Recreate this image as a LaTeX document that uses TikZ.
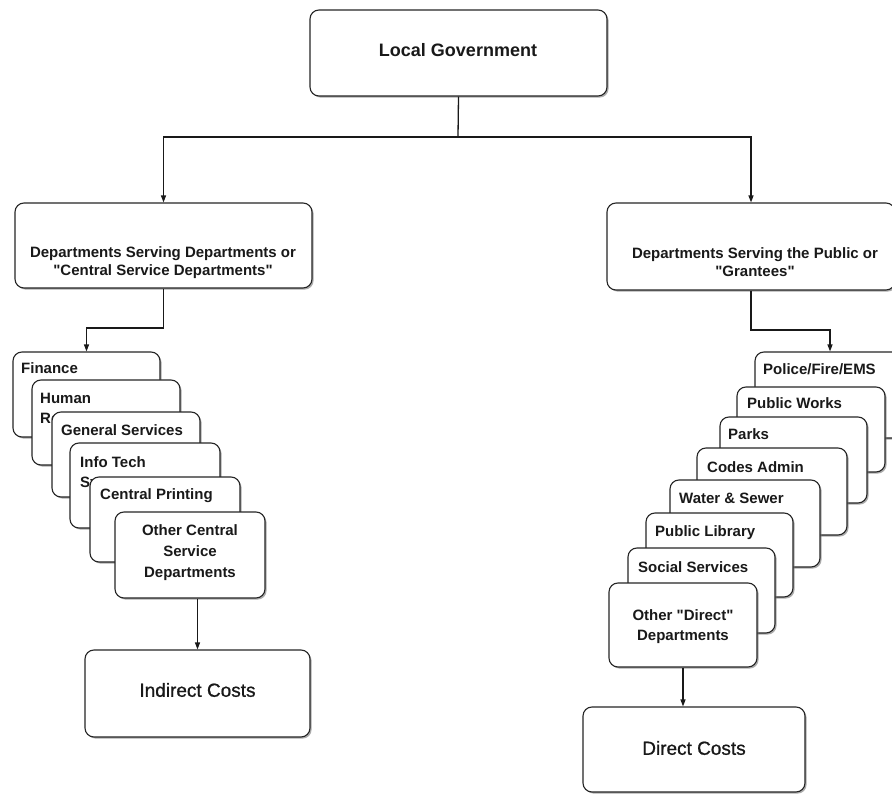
\documentclass[tikz,border=0pt]{standalone}
\usepackage{fontspec}
\setmainfont{Liberation Sans}[Ligatures=TeXOff]
\newfontfamily\medfont{Liberation Sans}[FakeBold=0.9,Ligatures=TeXOff]
\usetikzlibrary{fit,shadows,arrows.meta,calc}
\begin{document}
\begin{tikzpicture}[x=1pt,y=-1pt,
  box/.style={draw=black!85, line width=1.1pt, rounded corners=9pt, fill=white, inner sep=0pt,
     drop shadow={shadow xshift=1.6pt, shadow yshift=-1.6pt, fill=black!55, opacity=0.6}},
  lbl/.style={font=\bfseries\fontsize{15}{20}\selectfont, inner sep=0pt, anchor=north west, align=left, text=black!90},
  ctr/.style={font=\bfseries\fontsize{15}{20}\selectfont, inner sep=0pt, align=center, text=black!90},
  big/.style={font=\medfont\fontsize{19}{22}\selectfont, inner sep=0pt, text=black!90},
  conn/.style={draw=black!90, line width=1.3pt},
  arr/.style={conn, -{Triangle[length=7pt,width=5pt]}}
]
\clip (0,0) rectangle (892,794);
\fill[white] (0,0) rectangle (892,794);

% top
\node[box, fit={(310,10) (607,96)}] (lg) {};
\node[font=\bfseries\fontsize{18}{22}\selectfont, inner sep=0pt, text=black!90] (lgt) at (458,50) {Local Government};

\node[box, fit={(15,203) (312,288)}] (ld) {};
\node[ctr, font=\bfseries\fontsize{15}{18}\selectfont] (ldt) at (163,263) {Departments Serving Departments or\\"Central Service Departments"};

\node[box, fit={(607,203) (895,290)}] (rd) {};
\node[ctr, font=\bfseries\fontsize{15}{18}\selectfont] (rdt) at (755,262) {Departments Serving the Public or\\"Grantees"};

\coordinate (j) at (458,137);
\draw[conn] (lg.south) -- (j);
\draw[arr] (j) -| (ld.north);
\draw[arr] (j) -| (rd.north);

% left stack
\node[box, fit={(13,352) (160,437)}] (fin) {};
\node[lbl] (fint) at (21,362.6) {Finance};
\node[box, fit={(32,380) (180,465)}] (hr) {};
\node[lbl] (hrt) at (40,392.6) {Human\\Resources};
\node[box, fit={(52,412) (200,497)}] (gs) {};
\node[lbl] (gst) at (61,424.6) {General Services};
\node[box, fit={(70,443) (220,528)}] (it) {};
\node[lbl] (itt) at (80,456.6) {Info Tech\\Systems};
\node[box, fit={(90,477) (240,562)}] (cp) {};
\node[lbl] (cpt) at (100,488.6) {Central Printing};
\node[box, fit={(115,512) (265,598)}] (oc) {};
\node[ctr, font=\bfseries\fontsize{15}{21}\selectfont] (oct) at (190,552.6) {Other Central\\Service\\Departments};

\node[box, fit={(85,650) (310,737)}] (ind) {};
\node[big] (indt) at (197.5,690) {Indirect Costs};

\coordinate (lj) at (163.5,328);
\draw[arr] (ld.south) -- (lj) -| (fin.north);
\draw[arr] (ind.north |- oc.south) -- (ind.north);

% right stack
\node[box, fit={(755,352) (905,438)}] (pol) {};
\node[lbl] (polt) at (763,363.6) {Police/Fire/EMS};
\node[box, fit={(737,387) (885,472)}] (pw) {};
\node[lbl] (pwt) at (747,397.6) {Public Works};
\node[box, fit={(720,417) (867,503)}] (pk) {};
\node[lbl] (pkt) at (728,428.6) {Parks};
\node[box, fit={(697,448) (847,535)}] (ca) {};
\node[lbl] (cat) at (707,461.6) {Codes Admin};
\node[box, fit={(670,480) (820,567)}] (ws) {};
\node[lbl] (wst) at (679,492.6) {Water \& Sewer};
\node[box, fit={(646,513) (793,597)}] (pl) {};
\node[lbl] (plt) at (655,525.6) {Public Library};
\node[box, fit={(628,548) (775,633)}] (ss) {};
\node[lbl] (sst) at (638,561.6) {Social Services};
\node[box, fit={(609,583) (757,667)}] (od) {};
\node[ctr] (odt) at (683,626.6) {Other "Direct"\\Departments};

\node[box, fit={(583,707) (805,792)}] (dir) {};
\node[big] (dirt) at (694,748) {Direct Costs};

\coordinate (rj) at (751,330);
\draw[arr] (rd.south) -- (rj) -| (pol.north);
\draw[arr] (od.south) -- (od.south |- dir.north);
\end{tikzpicture}
\end{document}
